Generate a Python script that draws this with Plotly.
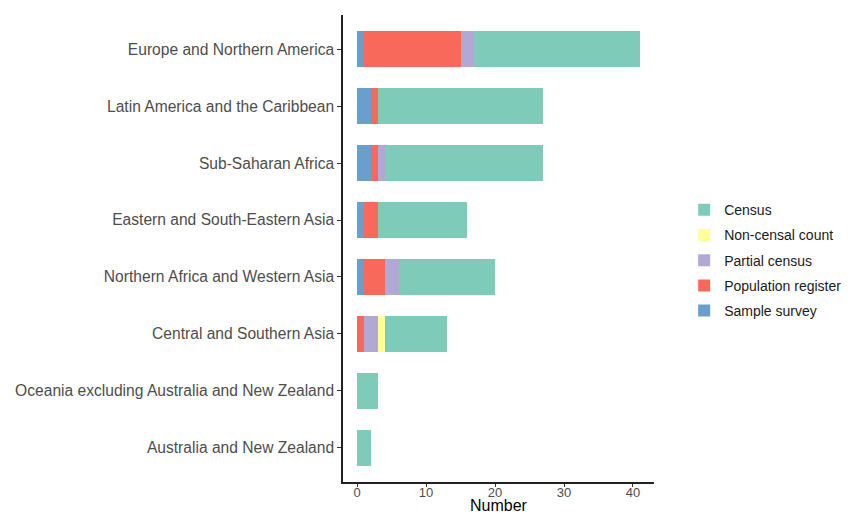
import plotly.graph_objects as go

regions = [
    "Europe and Northern America",
    "Latin America and the Caribbean",
    "Sub-Saharan Africa",
    "Eastern and South-Eastern Asia",
    "Northern Africa and Western Asia",
    "Central and Southern Asia",
    "Oceania excluding Australia and New Zealand",
    "Australia and New Zealand",
]
sample_survey = [1, 2, 2, 1, 1, 0, 0, 0]
population_register = [14, 1, 1, 2, 3, 1, 0, 0]
partial_census = [2, 0, 1, 0, 2, 2, 0, 0]
non_censal = [0, 0, 0, 0, 0, 1, 0, 0]
census = [24, 24, 23, 13, 14, 9, 3, 2]
x_title = "Number"

series = [
    ("Sample survey", sample_survey, "#6A9FCB"),
    ("Population register", population_register, "#F8695C"),
    ("Partial census", partial_census, "#B3A8D4"),
    ("Non-censal count", non_censal, "#FFFF99"),
    ("Census", census, "#7ECBB9"),
]

fig = go.Figure()
n = len(series)
for i, (name, vals, color) in enumerate(series):
    fig.add_trace(go.Bar(
        y=regions, x=vals, name=name, orientation="h",
        marker=dict(color=color, line=dict(width=0)),
        legendgroup=f"g{i}", legendrank=n - i,
    ))

fig.add_annotation(
    text=x_title, xref="paper", yref="paper", x=0.5, y=-0.051,
    xanchor="center", yanchor="middle", showarrow=False,
    font=dict(size=16, color="black"), borderpad=0,
)

fig.update_layout(
    barmode="stack",
    bargap=0.36,
    width=849, height=530,
    margin=dict(l=335, r=203, t=7, b=56),
    paper_bgcolor="white", plot_bgcolor="white",
    font=dict(family="Liberation Sans, Arial, sans-serif", size=15, color="#4D4D4D"),
    legend=dict(
        traceorder="grouped", tracegroupgap=4,
        x=1.097, xanchor="left", y=0.475, yanchor="middle",
        font=dict(size=14, color="#1A1A1A"),
    ),
    xaxis=dict(
        range=[-2.05, 43.05], tickvals=[0, 10, 20, 30, 40],
        showgrid=False, zeroline=False, automargin=False,
        showline=True, linecolor="#222222", linewidth=1.5,
        ticks="outside", ticklen=3, tickcolor="#333333",
        ticklabelstandoff=-5,
        tickfont=dict(size=13, color="#4D4D4D"),
    ),
    yaxis=dict(
        categoryorder="array", categoryarray=regions[::-1],
        range=[-0.6, 7.6], automargin=False,
        showgrid=False, zeroline=False,
        showline=True, linecolor="#222222", linewidth=1.5,
        ticks="outside", ticklen=4, tickcolor="#333333",
        tickfont=dict(size=15.6, color="#4D4D4D"),
    ),
)

fig.write_html("out.html")
